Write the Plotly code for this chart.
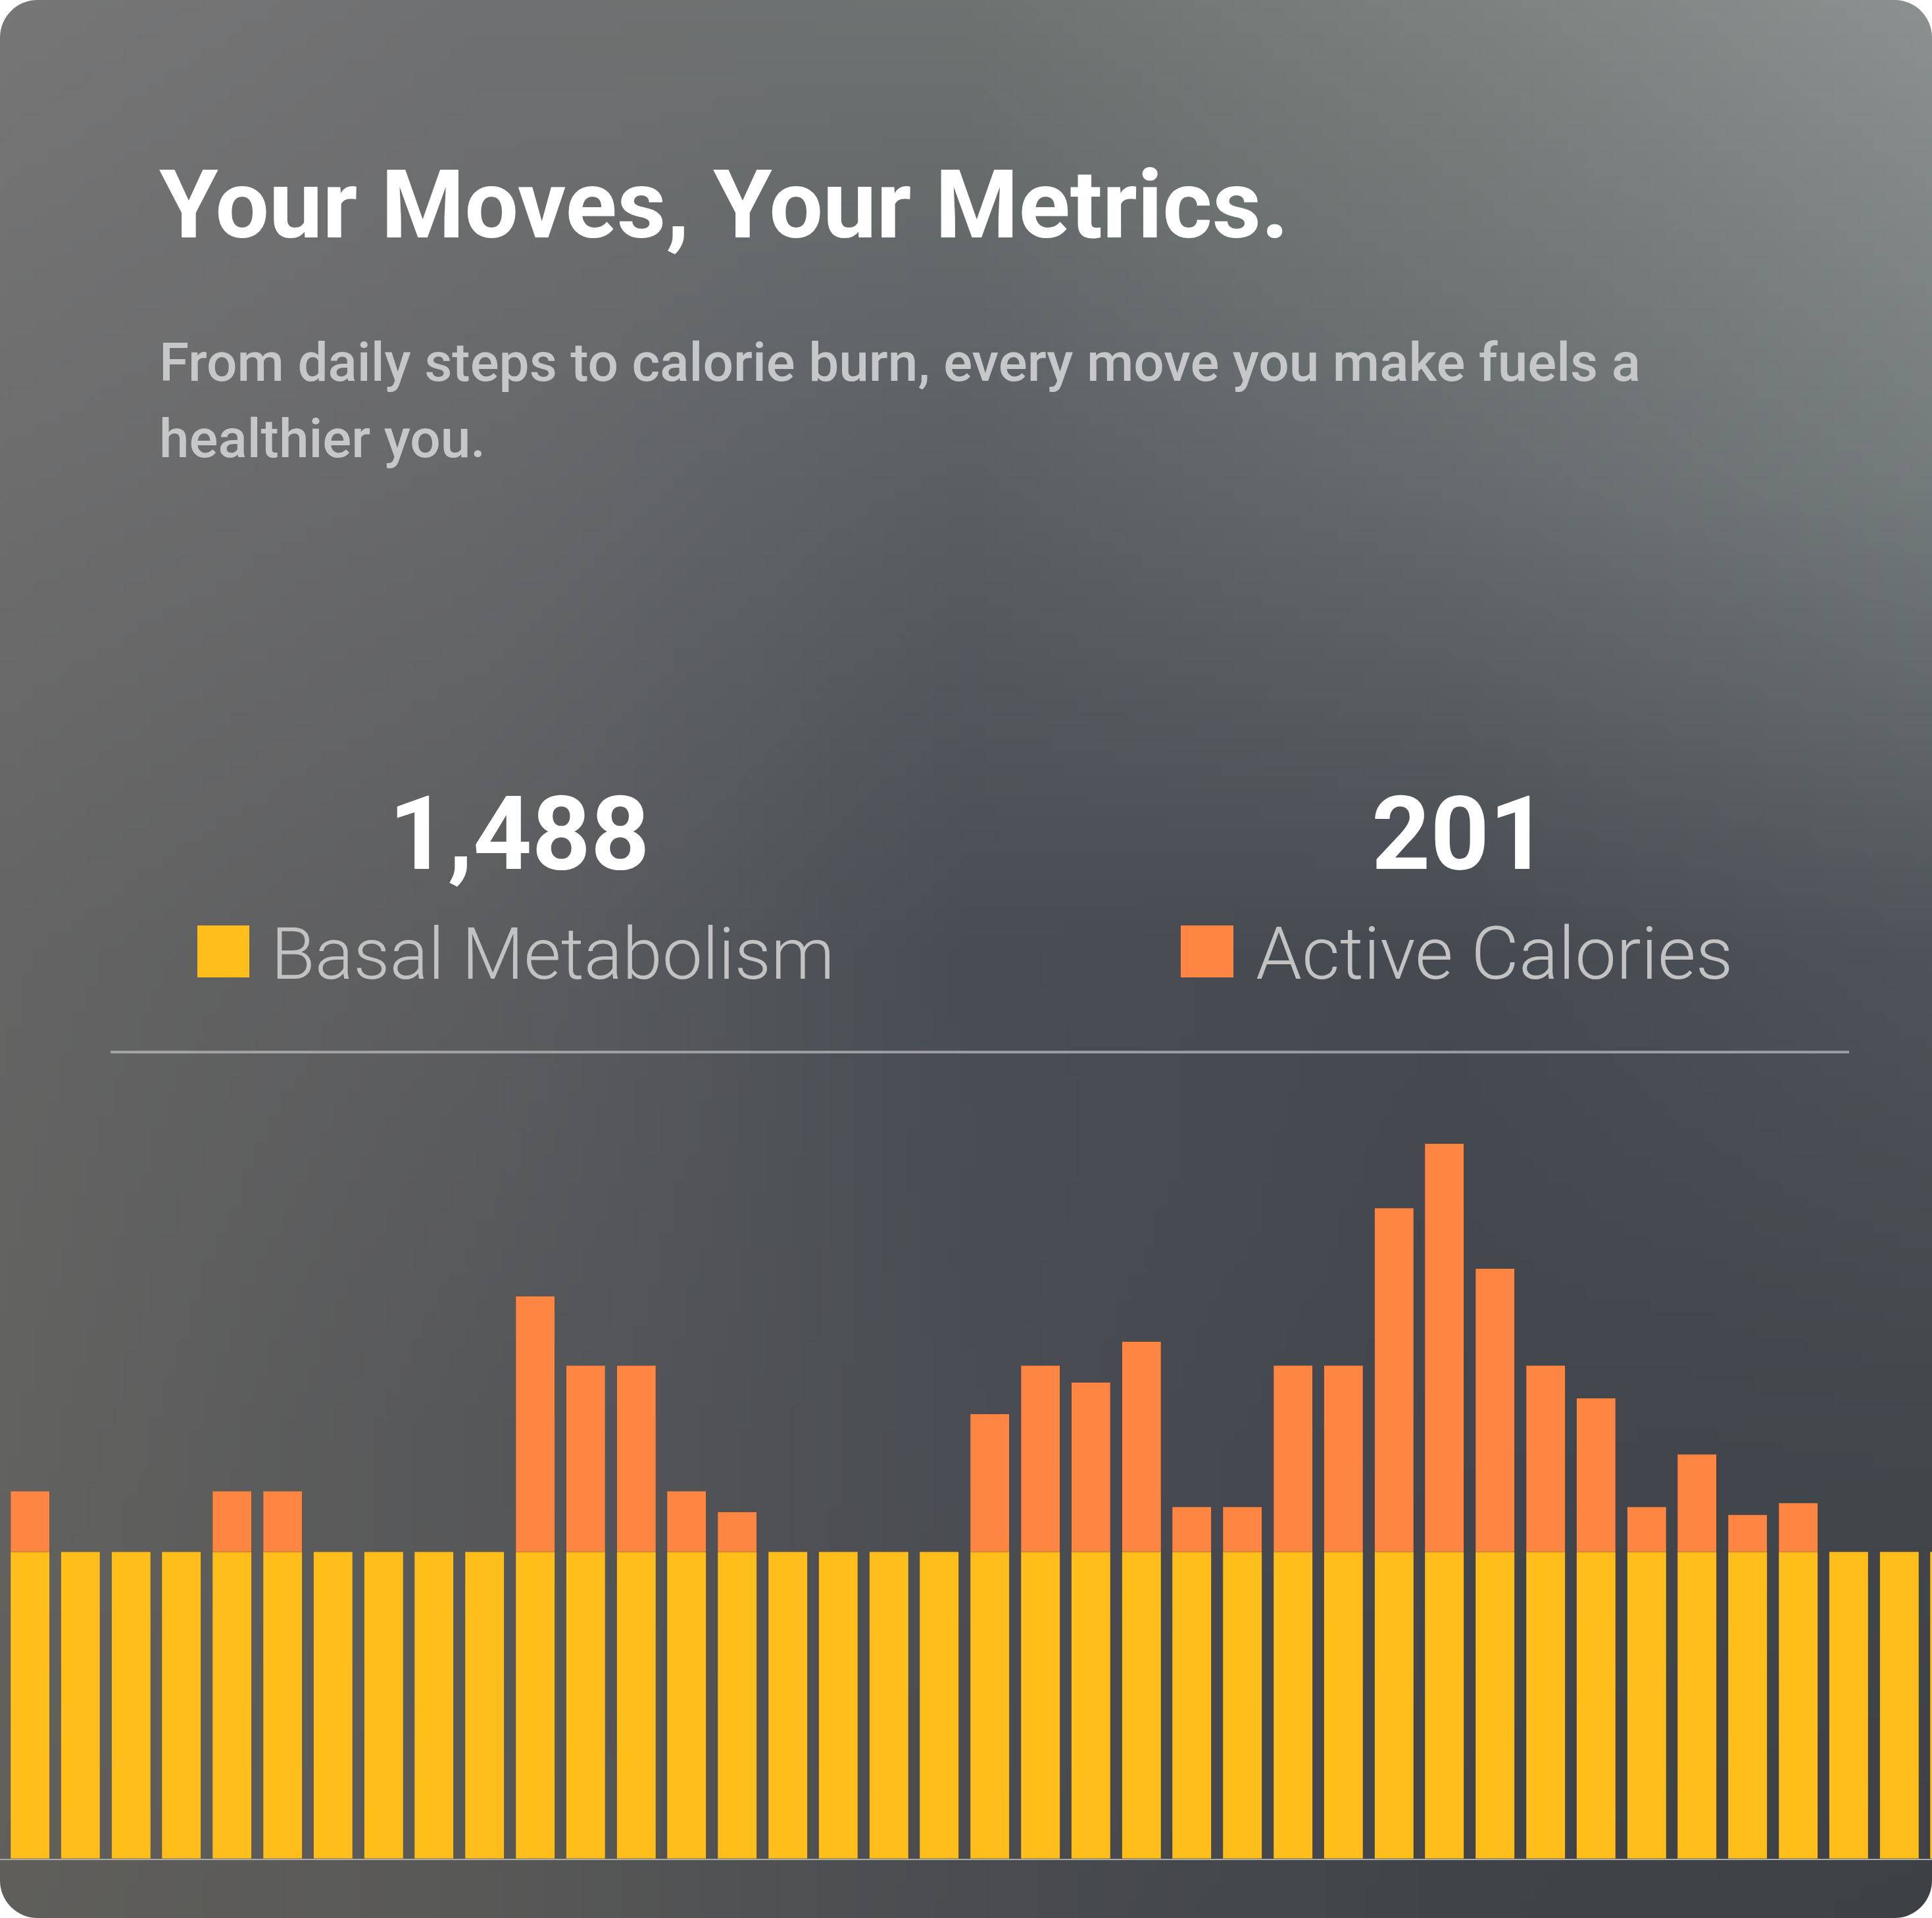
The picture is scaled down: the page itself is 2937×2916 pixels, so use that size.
import base64
import struct
import zlib
import plotly.graph_objects as go

# ---------------- data ----------------
slots = [f"T{i:02d}" for i in range(39)]
basal = [31, 31, 31, 31, 31, 31, 31, 31, 31, 31, 31, 31, 31,
         31, 31, 31, 31, 31, 31, 31, 31, 31, 31, 31, 31, 31,
         31, 31, 31, 31, 31, 31, 31, 31, 31, 31, 31, 31, 31]
active = [6.1, 0, 0, 0, 6.1, 6.1, 0, 0, 0, 0, 25.8, 18.8, 18.8,
          6.1, 4.0, 0, 0, 0, 0, 13.9, 18.8, 17.1, 21.2, 4.5, 4.5, 18.8,
          18.8, 34.7, 41.2, 28.6, 18.8, 15.5, 4.5, 9.8, 3.7, 4.9, 0, 0, 0]
series_names = ["Basal Metabolism", "Active Calories"]
series_totals = ["1,488", "201"]
title_text = "Your Moves, Your Metrics."
subtitle_lines = ["From daily steps to calorie burn, every move you make fuels a",
                  "healthier you."]

# ---------------- style ----------------
W, H = 2937, 2916
YELLOW = "#FFBE1A"
ORANGE = "#FF8642"
FONT = "Roboto"

# background gradient (styling only)
grid = [
    ["#767677", "#6f7071", "#6e7271", "#7c817f", "#8a9190"],
    ["#6d6d6e", "#67686a", "#5a5f63", "#666c6d", "#747b7b"],
    ["#646464", "#5c5d5f", "#484d54", "#454a51", "#4d5358"],
    ["#626260", "#565759", "#4a4d53", "#42464d", "#42474c"],
    ["#5f5e5b", "#585857", "#4a4c4f", "#404448", "#3d4146"],
]


def hex2rgb(h):
    h = h.lstrip("#")
    return [int(h[i:i + 2], 16) for i in (0, 2, 4)]


G = [[hex2rgb(c) for c in row] for row in grid]


def make_png(pw, ph):
    n = len(G) - 1
    rows = []
    for j in range(ph):
        v = j / (ph - 1) * n
        j0 = min(int(v), n - 1)
        fv = v - j0
        row = bytearray([0])
        for i in range(pw):
            u = i / (pw - 1) * n
            i0 = min(int(u), n - 1)
            fu = u - i0
            for k in range(3):
                a = G[j0][i0][k] * (1 - fu) + G[j0][i0 + 1][k] * fu
                b = G[j0 + 1][i0][k] * (1 - fu) + G[j0 + 1][i0 + 1][k] * fu
                row.append(int(round(a * (1 - fv) + b * fv)))
        rows.append(bytes(row))
    raw = b"".join(rows)

    def chunk(tag, data):
        c = struct.pack(">I", len(data)) + tag + data
        return c + struct.pack(">I", zlib.crc32(tag + data) & 0xffffffff)

    ihdr = struct.pack(">IIBBBBB", pw, ph, 8, 2, 0, 0, 0)
    return (b"\x89PNG\r\n\x1a\n" + chunk(b"IHDR", ihdr) +
            chunk(b"IDAT", zlib.compress(raw, 9)) + chunk(b"IEND", b""))


png_b64 = base64.b64encode(make_png(148, 147)).decode()
svg = (f'<svg xmlns="http://www.w3.org/2000/svg" xmlns:xlink="http://www.w3.org/1999/xlink" '
       f'width="{W}" height="{H}" viewBox="0 0 {W} {H}">'
       f'<defs><clipPath id="c"><rect width="{W}" height="{H}" rx="57" ry="57"/></clipPath></defs>'
       f'<image clip-path="url(#c)" x="0" y="0" width="{W}" height="{H}" preserveAspectRatio="none" '
       f'href="data:image/png;base64,{png_b64}" xlink:href="data:image/png;base64,{png_b64}"/></svg>')
bg_src = "data:image/svg+xml;base64," + base64.b64encode(svg.encode()).decode()

# plot geometry (pixels)
slot_px = 76.8
first_slot_left = 7.1
base_px = 2825.6
top_px = 1650.0
px_per_unit = 466.6 / 31.0
x_start = -0.5 - first_slot_left / slot_px
x_range = [x_start, x_start + W / slot_px]
y_domain = [(H - base_px) / H, (H - top_px) / H]
y_range = [0, (base_px - top_px) / px_per_unit]


def px(x):
    return x / W


def py(y):
    return 1 - y / H


def text_ann(text, x, baseline, size, color, weight, xanchor="left"):
    top = baseline - 0.928 * size - 1
    return dict(text=text, x=px(x), y=py(top), xref="paper", yref="paper",
                xanchor=xanchor, yanchor="top", showarrow=False,
                font=dict(family=FONT, size=size, color=color, weight=weight))


fig = go.Figure()
fig.add_trace(go.Bar(x=slots, y=basal, name=series_names[0],
                     marker=dict(color=YELLOW, line=dict(width=1, color="rgba(150,110,40,0.35)"))))
fig.add_trace(go.Bar(x=slots, y=active, name=series_names[1],
                     marker=dict(color=ORANGE, line=dict(width=1, color="rgba(120,70,40,0.35)"))))

annotations = [
    text_ann(title_text, 240, 360, 145, "#ffffff", 700),
    text_ann(subtitle_lines[0], 240, 578, 82, "#c6c7c8", 500),
    text_ann(subtitle_lines[1], 240, 694, 82, "#c6c7c8", 500),
    text_ann(series_totals[0], 789, 1320, 156, "#ffffff", 700, "center"),
    text_ann(series_totals[1], 2219, 1320, 156, "#ffffff", 700, "center"),
    text_ann(series_names[0], 410, 1487, 109, "#c2c2c2", 300),
    text_ann(series_names[1], 1907, 1487, 112, "#c2c2c2", 300),
]

shapes = [
    dict(type="rect", xref="paper", yref="paper", x0=px(300), x1=px(379), y0=py(1486), y1=py(1407),
         fillcolor=YELLOW, line=dict(width=0)),
    dict(type="rect", xref="paper", yref="paper", x0=px(1795), x1=px(1875), y0=py(1486), y1=py(1407),
         fillcolor=ORANGE, line=dict(width=0)),
    dict(type="line", xref="paper", yref="paper", x0=px(168), x1=px(2811), y0=py(1599.5), y1=py(1599.5),
         line=dict(color="rgba(210,210,210,0.62)", width=4)),
]

fig.update_layout(
    width=W, height=H, autosize=False,
    margin=dict(l=0, r=0, t=0, b=0, pad=0),
    paper_bgcolor="#ffffff", plot_bgcolor="rgba(0,0,0,0)",
    barmode="stack", bargap=1 - 59 / 76.8,
    showlegend=False,
    images=[dict(source=bg_src, xref="paper", yref="paper", x=0, y=1, sizex=1, sizey=1,
                 xanchor="left", yanchor="top", sizing="stretch", layer="below")],
    annotations=annotations, shapes=shapes,
    xaxis=dict(domain=[0, 1], range=x_range, showgrid=False, zeroline=False,
               showticklabels=False, ticks="", showline=True, linecolor="#a9a9a9",
               linewidth=2, fixedrange=True),
    yaxis=dict(domain=y_domain, range=y_range, visible=False, fixedrange=True),
)

fig.write_html("out.html", config={"displayModeBar": False},
               post_script="document.body.style.margin='0';document.body.style.padding='0';")
